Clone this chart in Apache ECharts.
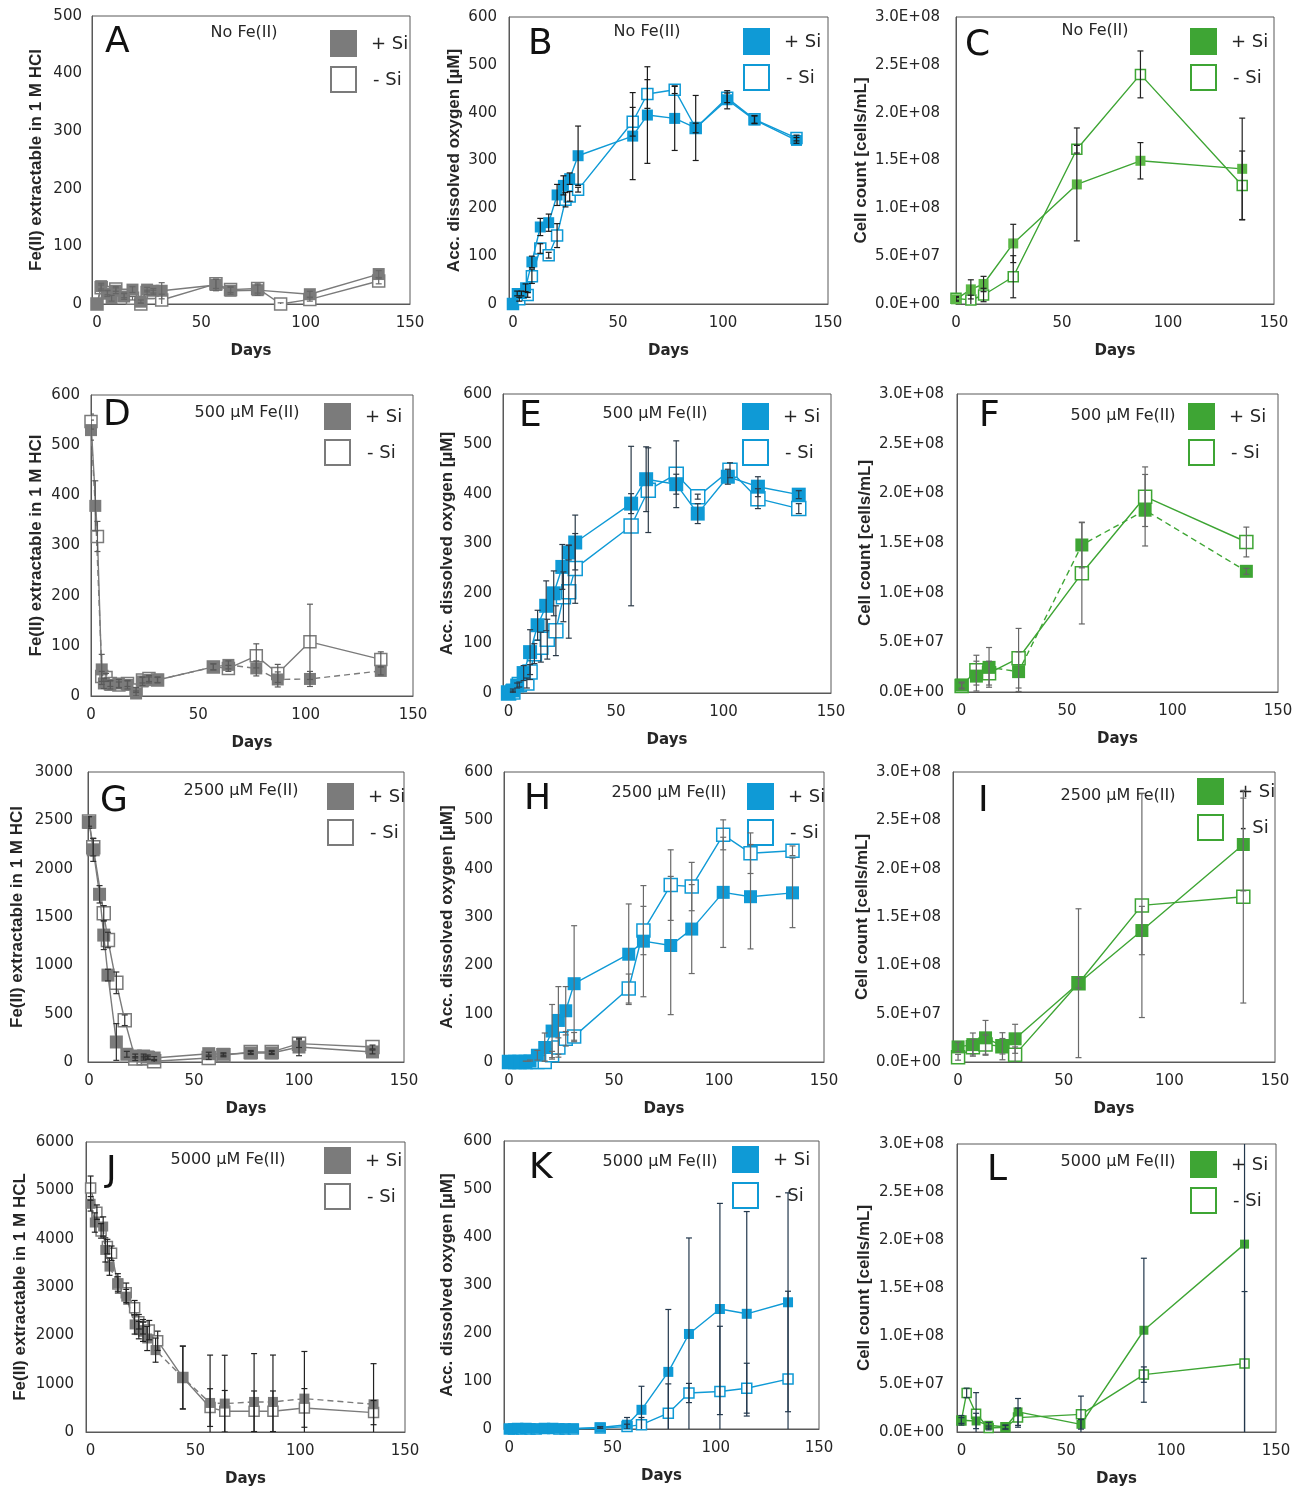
<!DOCTYPE html>
<html>
<head>
<meta charset="utf-8">
<script src="https://cdn.jsdelivr.net/npm/echarts@6/dist/echarts.min.js"></script>
<style>
  html, body { margin: 0; padding: 0; background: #fff; }
  #chart { width: 1300px; height: 1488px; }
</style>
</head>
<body>
<div id="chart"></div>
<script>
// ---------- data ----------
const xTickDays = [0, 50, 100, 150];

// A  Fe(II), no Fe(II)
const aDaysPlus  = [0, 2, 5, 7, 9, 13, 17, 21, 24, 27, 31, 57, 64, 77, 102, 135];
const aPlus      = [0, 31, 18, 10, 23, 13, 25, 4, 25, 23, 23, 33, 23, 24, 17, 52];
const aPlusErr   = [0, 5, 5, 5, 5, 5, 5, 3, 4, 4, 14, 10, 6, 9, 5, 6];
const aDaysMinus = [0, 2, 5, 9, 13, 17, 21, 24, 27, 31, 57, 64, 77, 88, 102, 135];
const aMinus     = [0, 28, 20, 26, 15, 10, 0, 20, 20, 7, 35, 25, 27, 0, 8, 40];
const aMinusErr  = [0, 5, 4, 4, 4, 3, 2, 4, 4, 10, 8, 5, 8, 2, 3, 5];

// B  O2, no Fe(II)
const bDaysPlus  = [0, 2, 4, 6, 9, 13, 17, 21, 24, 27, 31, 57, 64, 77, 87, 102, 115, 135];
const bPlus      = [0, 22, 22, 34, 88, 161, 170, 228, 248, 262, 310, 351, 395, 388, 368, 427, 385, 342];
const bPlusErr   = [0, 5, 5, 8, 12, 18, 18, 22, 20, 12, 62, 91, 101, 67, 68, 19, 8, 6];
const bDaysMinus = [0, 3, 7, 9, 13, 17, 21, 25, 27, 31, 57, 64, 77, 87, 102, 115, 135];
const bMinus     = [0, 10, 19, 58, 116, 102, 143, 218, 225, 239, 381, 439, 448, 368, 431, 386, 347];
const bMinusErr  = [0, 4, 5, 15, 10, 6, 25, 15, 10, 5, 30, 30, 8, 10, 10, 8, 6];

// C  cells, no Fe(II)
const cDays     = [0, 7, 13, 27, 57, 87, 135];
const cPlus     = [4.9e6, 15.3e6, 20.9e6, 63.3e6, 125e6, 149.7e6, 141.3e6];
const cPlusErr  = [2e6, 10e6, 8e6, 20e6, 59e6, 19e6, 53e6];
const cMinus    = [5.9e6, 4.2e6, 9.4e6, 28.5e6, 161.8e6, 240e6, 123.9e6];
const cMinusErr = [2e6, 5e6, 7e6, 22e6, 4e6, 24.5e6, 36e6];

// D  Fe(II), 500 uM
const dDaysPlus  = [0, 2, 5, 6, 9, 13, 17, 21, 24, 27, 31, 57, 64, 77, 87, 102, 135];
const dPlus      = [530, 379, 53, 25, 22, 25, 22, 5, 29, 32, 32, 58, 62, 55, 33, 34, 50];
const dPlusErr   = [20, 50, 30, 10, 8, 8, 8, 5, 8, 6, 6, 6, 8, 15, 15, 15, 8];
const dDaysMinus = [0, 3, 5, 7, 9, 13, 17, 21, 24, 27, 31, 57, 64, 77, 87, 102, 135];
const dMinus     = [547, 318, 39, 37, 25, 22, 25, 12, 32, 35, 32, 58, 55, 80, 45, 108, 73];
const dMinusErr  = [15, 30, 10, 8, 6, 6, 6, 5, 6, 6, 5, 6, 6, 24, 18, 75, 15];

// E  O2, 500 uM
const eDaysPlus  = [0, 2, 4, 7, 10, 13.5, 17.5, 21, 25, 28, 31, 57, 64, 78, 88, 102, 116, 135];
const ePlus      = [0, 5, 15, 40, 82, 136, 175, 200, 253, 282, 302, 380, 429, 419, 360, 434, 414, 398];
const ePlusErr   = [0, 3, 5, 15, 45, 30, 50, 45, 45, 15, 55, 20, 65, 20, 20, 15, 20, 8];
const eDaysMinus = [0, 2, 5, 8.5, 10, 12, 15, 18, 22, 25.5, 28, 31, 57, 65, 78, 88, 103, 116, 135];
const eMinus     = [0, 2, 17, 20, 42, 79, 92, 108, 125, 193, 203, 250, 335, 407, 439, 394, 447, 390, 370];
const eMinusErr  = [0, 2, 5, 10, 15, 20, 30, 40, 50, 50, 93, 70, 160, 85, 67, 5, 15, 20, 10];

// F  cells, 500 uM
const fDays     = [0, 7, 13, 27, 57, 87, 135];
const fPlus     = [7e6, 16e6, 24.8e6, 20.5e6, 148e6, 183e6, 121.5e6];
const fPlusErr  = [3e6, 15e6, 20e6, 20e6, 23e6, 36e6, 3e6];
const fMinus    = [6e6, 22e6, 19e6, 34e6, 119.5e6, 196.6e6, 151e6];
const fMinusErr = [3e6, 15e6, 12e6, 30e6, 51e6, 30e6, 15e6];

// G  Fe(II), 2500 uM
const gDaysPlus  = [0, 2, 5, 7, 9, 13, 18, 22, 26, 28, 31, 57, 64, 77, 87, 100, 135];
const gPlus      = [2478, 2195, 1735, 1313, 899, 207, 80, 62, 62, 52, 41, 86, 80, 93, 93, 155, 104];
const gPlusErr   = [60, 120, 90, 150, 60, 190, 30, 20, 20, 20, 15, 15, 15, 15, 15, 90, 20];
const gDaysMinus = [0, 2, 7, 9, 13, 17, 22, 26, 28, 31, 57, 64, 77, 87, 100, 135];
const gMinus     = [2489, 2222, 1538, 1262, 819, 432, 35, 40, 40, 7, 41, 69, 104, 104, 190, 155];
const gMinusErr  = [50, 90, 80, 80, 112, 55, 20, 20, 15, 10, 15, 15, 15, 15, 40, 20];

// H  O2, 2500 uM
const hDays     = [0, 3, 5, 8, 10, 13.5, 17, 20.5, 23.5, 27, 31, 57, 64, 77, 87, 102, 115, 135];
const hPlus     = [0, 0, 0, 1, 2, 14, 30, 64, 86, 106, 162, 223, 250, 241, 275, 351, 342, 350];
const hPlusErr  = [0, 0, 0, 1, 2, 10, 30, 55, 70, 50, 120, 104, 115, 143, 92, 114, 108, 72];
const hMinus    = [0, 0, 0, 0, 0, 0, 0, 14, 30, 48, 53, 152, 272, 366, 363, 470, 432, 437];
const hMinusErr = [0, 0, 0, 0, 0, 0, 2, 8, 20, 15, 8, 30, 50, 73, 50, 31, 42, 10];

// I  cells, 2500 uM
const iDays     = [0, 7, 13, 21, 27, 57, 87, 135];
const iPlus     = [15.6e6, 18e6, 25e6, 16.3e6, 24e6, 81.5e6, 136e6, 225e6];
const iPlusErr  = [5e6, 12e6, 18e6, 14e6, 15e6, 77e6, 25e6, 48e6];
const iMinus    = [4.9e6, 15.3e6, 18e6, 16.3e6, 7.6e6, 81.5e6, 162e6, 171e6];
const iMinusErr = [3e6, 8e6, 10e6, 8e6, 8e6, 5e6, 116e6, 110e6];

// J  Fe(II), 5000 uM
const jDaysPlus  = [0, 2, 6, 7, 9, 13, 17, 21, 23, 25, 27, 31, 44, 57, 64, 78, 87, 102, 135];
const jPlus      = [4721, 4334, 4251, 3767, 3422, 3076, 2800, 2226, 2108, 2074, 1935, 1694, 1127, 601, 588, 622, 622, 691, 574];
const jPlusErr   = [150, 200, 200, 250, 180, 200, 150, 200, 180, 200, 250, 250, 650, 990, 1000, 1000, 970, 975, 840];
const jDaysMinus = [0, 3, 5, 8, 10, 13, 17, 21, 23, 25, 28, 32, 44, 57, 64, 78, 87, 102, 135];
const jMinus     = [5046, 4548, 4161, 3836, 3698, 3062, 2882, 2571, 2281, 2177, 2108, 1887, 1127, 505, 429, 429, 429, 498, 401];
const jMinusErr  = [250, 150, 150, 150, 150, 150, 200, 150, 150, 150, 200, 200, 650, 390, 430, 420, 420, 400, 250];

// K  O2, 5000 uM
const kDays     = [0, 2, 4, 6, 8, 10, 13, 17, 21, 24, 27, 31, 44, 57, 64, 77, 87, 102, 115, 135];
const kPlus     = [0, 1, 2, 1, 2, 1, 1, 2, 2, 1, 1, 1, 3, 9, 40, 119, 198, 250, 240, 264];
const kPlusErr  = [0, 0, 0, 0, 0, 0, 0, 0, 0, 0, 0, 0, 2, 15, 49, 130, 200, 220, 213, 228];
const kMinus    = [0, 0, 1, 0, 1, 0, 0, 1, 1, 0, 0, 0, 2, 5, 9, 33, 75, 78, 85, 104];
const kMinusErr = [0, 0, 0, 0, 0, 0, 0, 0, 0, 0, 0, 0, 2, 5, 15, 61, 20, 136, 52, 183];

// L  cells, 5000 uM
const lDaysPlus  = [0, 7, 13, 21, 27, 57, 87, 135];
const lPlus      = [12.2e6, 11.5e6, 7e6, 5.2e6, 20.9e6, 8e6, 106e6, 195.7e6];
const lPlusErr   = [5e6, 8e6, 3e6, 2e6, 14e6, 5e6, 75e6, 220e6];
const lDaysMinus = [0, 2.5, 7, 13, 21, 27, 57, 87, 135];
const lMinus     = [12e6, 40.7e6, 19e6, 4.2e6, 5e6, 15e6, 18.4e6, 59.8e6, 71.3e6];
const lMinusErr  = [3e6, 5e6, 22e6, 2e6, 2e6, 10e6, 19e6, 8e6, 75e6];

// ---------- layout / styling ----------
const kinds = {
  fe:   { color: '#7b7b7b', name: 'Fe(II) extractable in 1 M HCl' },
  o2:   { color: '#0f9ad6', name: 'Acc. dissolved oxygen [µM]' },
  cell: { color: '#3ea534', name: 'Cell count [cells/mL]' }
};

// box = [left, top, right, bottom] of the plot area in page pixels
const panels = [
  { key: 'A', kind: 'fe', title: 'No Fe(II)', box: [92, 16, 410, 304], xMin: -2.4, yMax: 500, yInt: 100,
    plus: [aDaysPlus, aPlus, aPlusErr], minus: [aDaysMinus, aMinus, aMinusErr], sym: 12, err: '#666',
    nameGap: 47, lblMargin: 10, letter: [105, 43], titleAt: [244, 33], legend: [330, 30] },
  { key: 'B', kind: 'o2', title: 'No Fe(II)', box: [509, 17, 828, 304], xMin: -1.9, yMax: 600, yInt: 100,
    plus: [bDaysPlus, bPlus, bPlusErr], minus: [bDaysMinus, bMinus, bMinusErr], sym: 11, err: '#1a1a1a',
    nameGap: 46, lblMargin: 12, letter: [528, 45], titleAt: [647, 32], legend: [743, 28] },
  { key: 'C', kind: 'cell', title: 'No Fe(II)', box: [956, 17, 1274, 304], xMin: 0, yMax: 3e8, yInt: 5e7,
    plus: [cDays, cPlus, cPlusErr], minus: [cDays, cMinus, cMinusErr], sym: 10, err: '#222',
    nameGap: 86, lblMargin: 16, letter: [965, 46], titleAt: [1095, 31], legend: [1190, 28], plusColor: '#5cb846' },
  { key: 'D', kind: 'fe', title: '500 µM Fe(II)', box: [91, 395, 413, 696], xMin: 0, yMax: 600, yInt: 100,
    plus: [dDaysPlus, dPlus, dPlusErr], minus: [dDaysMinus, dMinus, dMinusErr], sym: 12, err: '#5a5a5a',
    nameGap: 46, lblMargin: 11, letter: [103, 416], titleAt: [247, 413], legend: [324, 403], dashPlus: true },
  { key: 'E', kind: 'o2', title: '500 µM Fe(II)', box: [503, 394, 831, 693], xMin: -2.6, yMax: 600, yInt: 100,
    plus: [eDaysPlus, ePlus, ePlusErr], minus: [eDaysMinus, eMinus, eMinusErr], sym: 14, err: '#2b3a48',
    nameGap: 47, lblMargin: 11, letter: [519, 417], titleAt: [655, 414], legend: [742, 403] },
  { key: 'F', kind: 'cell', title: '500 µM Fe(II)', box: [957, 394, 1278, 692], xMin: -2.2, yMax: 3e8, yInt: 5e7,
    plus: [fDays, fPlus, fPlusErr], minus: [fDays, fMinus, fMinusErr], sym: 13, err: '#666',
    nameGap: 83, lblMargin: 13, letter: [979, 417], titleAt: [1123, 416], legend: [1188, 403], dashPlus: true },
  { key: 'G', kind: 'fe', title: '2500 µM Fe(II)', box: [88, 772, 404, 1062], xMin: -0.5, yMax: 3000, yInt: 500,
    plus: [gDaysPlus, gPlus, gPlusErr], minus: [gDaysMinus, gMinus, gMinusErr], sym: 13, err: '#333',
    nameGap: 62, lblMargin: 15, letter: [100, 802], titleAt: [241, 791], legend: [327, 783] },
  { key: 'H', kind: 'o2', title: '2500 µM Fe(II)', box: [504, 772, 824, 1062], xMin: -2.4, yMax: 600, yInt: 100,
    plus: [hDays, hPlus, hPlusErr], minus: [hDays, hMinus, hMinusErr], sym: 13, err: '#6a6a6a',
    nameGap: 48, lblMargin: 11, letter: [524, 800], titleAt: [669, 793], legend: [747, 783] },
  { key: 'I', kind: 'cell', title: '2500 µM Fe(II)', box: [953, 772, 1275, 1062], xMin: -2.4, yMax: 3e8, yInt: 5e7,
    plus: [iDays, iPlus, iPlusErr], minus: [iDays, iMinus, iMinusErr], sym: 13, err: '#6a6a6a',
    nameGap: 82, lblMargin: 12, letter: [978, 802], titleAt: [1118, 796], legend: [1197, 778] },
  { key: 'J', kind: 'fe', title: '5000 µM Fe(II)', box: [86, 1142, 405, 1432], xMin: -2.2, yMax: 6000, yInt: 1000,
    plus: [jDaysPlus, jPlus, jPlusErr], minus: [jDaysMinus, jMinus, jMinusErr], sym: 10, err: '#222',
    nameGap: 57, lblMargin: 12, letter: [106, 1172], titleAt: [228, 1160], legend: [324, 1147], dashPlus: true,
    yName: 'Fe(II) extractable in 1 M HCL' },
  { key: 'K', kind: 'o2', title: '5000 µM Fe(II)', box: [504, 1141, 819, 1429], xMin: -2.6, yMax: 600, yInt: 100,
    plus: [kDays, kPlus, kPlusErr], minus: [kDays, kMinus, kMinusErr], sym: 10, err: '#23384d',
    nameGap: 48, lblMargin: 12, letter: [529, 1169], titleAt: [660, 1162], legend: [732, 1146] },
  { key: 'L', kind: 'cell', title: '5000 µM Fe(II)', box: [957, 1144, 1276, 1432], xMin: -2.1, yMax: 3e8, yInt: 5e7,
    plus: [lDaysPlus, lPlus, lPlusErr], minus: [lDaysMinus, lMinus, lMinusErr], sym: 9, err: '#23384d',
    nameGap: 84, lblMargin: 13, letter: [987, 1171], titleAt: [1118, 1162], legend: [1190, 1151] }
];

const TEXT = '#262626';
const AXIS = '#595959';

// 3.0E+08 style labels for the cell-count axes
function sci(v) {
  if (v === 0) return '0.0E+00';
  const e = Math.floor(Math.log10(v) + 1e-9);
  const m = v / Math.pow(10, e);
  return m.toFixed(1) + 'E+' + String(e).padStart(2, '0');
}
function plain(v) { return String(v); }

function pairs(days, vals) { return days.map((d, i) => [d, vals[i]]); }
function errRows(days, vals, e) {
  return days.map((d, i) => [d, vals[i] - e[i], vals[i] + e[i], e[i]]);
}

function errorBar(params, api) {
  if (!api.value(3)) return null;
  const x = api.value(0);
  const lo = api.coord([x, api.value(1)]);
  const hi = api.coord([x, api.value(2)]);
  const w = 3;
  const style = { stroke: api.visual('color'), lineWidth: 1.2 };
  return {
    type: 'group',
    children: [
      { type: 'line', shape: { x1: hi[0], y1: hi[1], x2: lo[0], y2: lo[1] }, style: style },
      { type: 'line', shape: { x1: hi[0] - w, y1: hi[1], x2: hi[0] + w, y2: hi[1] }, style: style },
      { type: 'line', shape: { x1: lo[0] - w, y1: lo[1], x2: lo[0] + w, y2: lo[1] }, style: style }
    ]
  };
}

const grid = [], xAxis = [], yAxis = [], series = [], graphic = [];

panels.forEach(function (p, i) {
  const k = kinds[p.kind];
  const col = k.color;
  const [l, t, r, b] = p.box;
  grid.push({ left: l, top: t, width: r - l, height: b - t, show: true,
    borderColor: AXIS, borderWidth: 1, backgroundColor: 'transparent' });

  xAxis.push({
    gridIndex: i, type: 'value', min: p.xMin, max: 150,
    name: 'Days', nameLocation: 'middle', nameGap: 40,
    nameTextStyle: { fontFamily: 'DejaVu Sans', fontWeight: 'bold', fontSize: 15, color: TEXT },
    axisLine: { onZero: false, lineStyle: { color: AXIS, width: 1 } },
    axisTick: { show: false }, splitLine: { show: false },
    axisLabel: { customValues: xTickDays, formatter: plain, color: TEXT, fontFamily: 'DejaVu Sans', fontSize: 15, margin: 12 }
  });

  yAxis.push({
    gridIndex: i, type: 'value', min: 0, max: p.yMax, interval: p.yInt,
    name: p.yName || k.name, nameLocation: 'middle', nameGap: p.nameGap,
    nameTextStyle: { fontFamily: 'Liberation Sans', fontWeight: 'bold', fontSize: 17, color: TEXT },
    axisLine: { show: true, onZero: false, lineStyle: { color: AXIS, width: 1 } },
    axisTick: { show: false }, splitLine: { show: false },
    axisLabel: { color: TEXT, fontFamily: 'DejaVu Sans', fontSize: 15, margin: p.lblMargin,
      formatter: p.kind === 'cell' ? sci : plain }
  });

  const plusCol = p.plusColor || col;
  // -Si (open squares)
  series.push({
    type: 'line', xAxisIndex: i, yAxisIndex: i, data: pairs(p.minus[0], p.minus[1]),
    symbol: 'rect', symbolSize: p.sym, showAllSymbol: true, animation: false, z: 2,
    lineStyle: { color: col, width: 1.4 },
    itemStyle: { color: '#ffffff', borderColor: col, borderWidth: 1.5 }
  });
  // +Si (filled squares)
  series.push({
    type: 'line', xAxisIndex: i, yAxisIndex: i, data: pairs(p.plus[0], p.plus[1]),
    symbol: 'rect', symbolSize: p.sym, showAllSymbol: true, animation: false, z: 3,
    lineStyle: { color: col, width: 1.4, type: p.dashPlus ? [6, 4] : 'solid' },
    itemStyle: { color: plusCol, borderColor: plusCol, borderWidth: 0 }
  });
  // error bars
  [p.minus, p.plus].forEach(function (s) {
    series.push({
      type: 'custom', xAxisIndex: i, yAxisIndex: i, renderItem: errorBar, clip: true,
      data: errRows(s[0], s[1], s[2]), encode: { x: 0, y: [1, 2] },
      itemStyle: { color: p.err }, z: 4, animation: false, silent: true
    });
  });

  // legend squares + labels, panel letter, panel title
  const [lx, ly] = p.legend;
  graphic.push(
    { type: 'rect', shape: { x: lx, y: ly, width: 27, height: 27 }, style: { fill: col } },
    { type: 'rect', shape: { x: lx + 1, y: ly + 37, width: 25, height: 25 },
      style: { fill: '#fff', stroke: col, lineWidth: 2 } },
    { type: 'text', x: lx + 41, y: ly + 14,
      style: { text: '+ Si', font: '18px "DejaVu Sans"', fill: TEXT, verticalAlign: 'middle', textVerticalAlign: 'middle' } },
    { type: 'text', x: lx + 43, y: ly + 50,
      style: { text: '- Si', font: '18px "DejaVu Sans"', fill: TEXT, verticalAlign: 'middle', textVerticalAlign: 'middle' } },
    { type: 'text', x: p.letter[0], y: p.letter[1],
      style: { text: p.key, font: '36px "DejaVu Sans"', fill: '#111', verticalAlign: 'middle', textVerticalAlign: 'middle' } },
    { type: 'text', x: p.titleAt[0], y: p.titleAt[1],
      style: { text: p.title, font: '16px "DejaVu Sans"', fill: TEXT, align: 'center', textAlign: 'center',
        verticalAlign: 'middle', textVerticalAlign: 'middle' } }
  );
});

const chart = echarts.init(document.getElementById('chart'));
chart.setOption({
  animation: false,
  backgroundColor: '#fff',
  grid: grid, xAxis: xAxis, yAxis: yAxis, series: series, graphic: graphic
});
</script>
</body>
</html>
